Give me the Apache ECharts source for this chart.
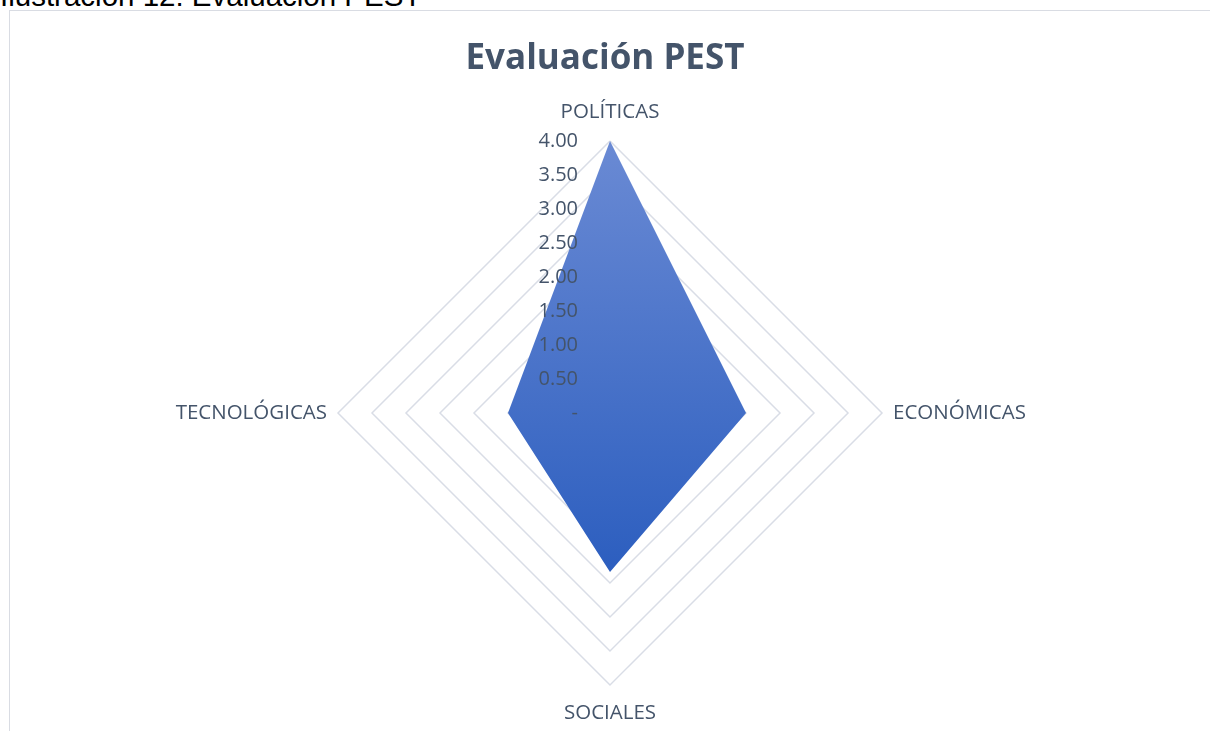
<!DOCTYPE html>
<html lang="es">
<head>
    <meta charset="UTF-8">
    <title>Evaluación PEST</title>
    <script src="https://cdn.jsdelivr.net/npm/echarts@6/dist/echarts.min.js"></script>
    <style>
        html, body {
            margin: 0;
            padding: 0;
            background: #fff;
            overflow: hidden;
        }
        .caption {
            position: absolute;
            left: 0;
            top: -19px;
            font-family: 'Liberation Sans', Arial, sans-serif;
            font-size: 29.5px;
            line-height: 30px;
            color: #000;
            white-space: nowrap;
        }
        .frame {
            position: absolute;
            left: 9px;
            top: 10px;
            width: 1400px;
            height: 900px;
            border-top: 1.5px solid #d9dce3;
            border-left: 1.5px solid #d9dce3;
        }
        #chart {
            position: absolute;
            left: 0;
            top: 0;
            width: 1210px;
            height: 731px;
        }
    </style>
</head>
<body>
    <div class="caption">Ilustración 12: Evaluación PEST</div>
    <div class="frame"></div>
    <div id="chart"></div>

    <script>
        // ECharts recorre los ejes en sentido antihorario, por eso este orden
        const categorias = ['POLÍTICAS', 'TECNOLÓGICAS', 'SOCIALES', 'ECONÓMICAS'];
        const valores = [4.0, 1.5, 2.34, 2.0];
        const maxEscala = 4;
        const pasos = 8;

        const chart = echarts.init(document.getElementById('chart'));
        const fuente = "'Open Sans', 'Noto Sans', sans-serif";
        const gris = '#44546a';

        const indicadores = categorias.map(n => ({ name: n, max: maxEscala, min: 0 }));

        const baseRadar = {
            center: [610, 413],
            radius: 272,
            startAngle: 90,
            shape: 'polygon',
            splitNumber: pasos,
            indicator: indicadores
        };

        const option = {
            title: {
                text: 'Evaluación PEST',
                left: 'center',
                top: 37,
                textStyle: {
                    fontFamily: fuente,
                    fontSize: 35,
                    fontWeight: 'bold',
                    color: gris
                }
            },
            radar: [
                Object.assign({}, baseRadar, {
                    z: 1,
                    axisName: {
                        color: gris,
                        fontFamily: fuente,
                        fontSize: 20.5,
                        padding: [7, 0, 7, 0]
                    },
                    nameGap: 11,
                    axisLine: { show: false },
                    axisTick: { show: false },
                    splitArea: { show: false },
                    splitLine: {
                        lineStyle: { color: '#d9dde6', width: 1.5 }
                    }
                }),
                Object.assign({}, baseRadar, {
                    z: 10,
                    axisName: { show: false },
                    axisLine: { show: false },
                    axisTick: { show: false },
                    splitArea: { show: false },
                    splitLine: { show: false },
                    indicator: indicadores.map((d, i) => Object.assign({}, d, {
                        axisLabel: {
                            show: i === 0,
                            margin: 32,
                            color: gris,
                            fontFamily: fuente,
                            fontSize: 20,
                            formatter: v => v === 0 ? '-' : v.toFixed(2)
                        }
                    }))
                })
            ],
            series: [
                {
                    type: 'radar',
                    radarIndex: 0,
                    z: 5,
                    symbol: 'none',
                    silent: true,
                    lineStyle: { width: 0 },
                    areaStyle: {
                        opacity: 1,
                        color: new echarts.graphic.LinearGradient(0, 0, 0, 1, [
                            { offset: 0, color: '#6a8ad4' },
                            { offset: 1, color: '#2c5ebf' }
                        ])
                    },
                    data: [{ value: valores, name: 'Evaluación' }]
                }
            ]
        };

        chart.setOption(option);
    </script>
</body>
</html>
